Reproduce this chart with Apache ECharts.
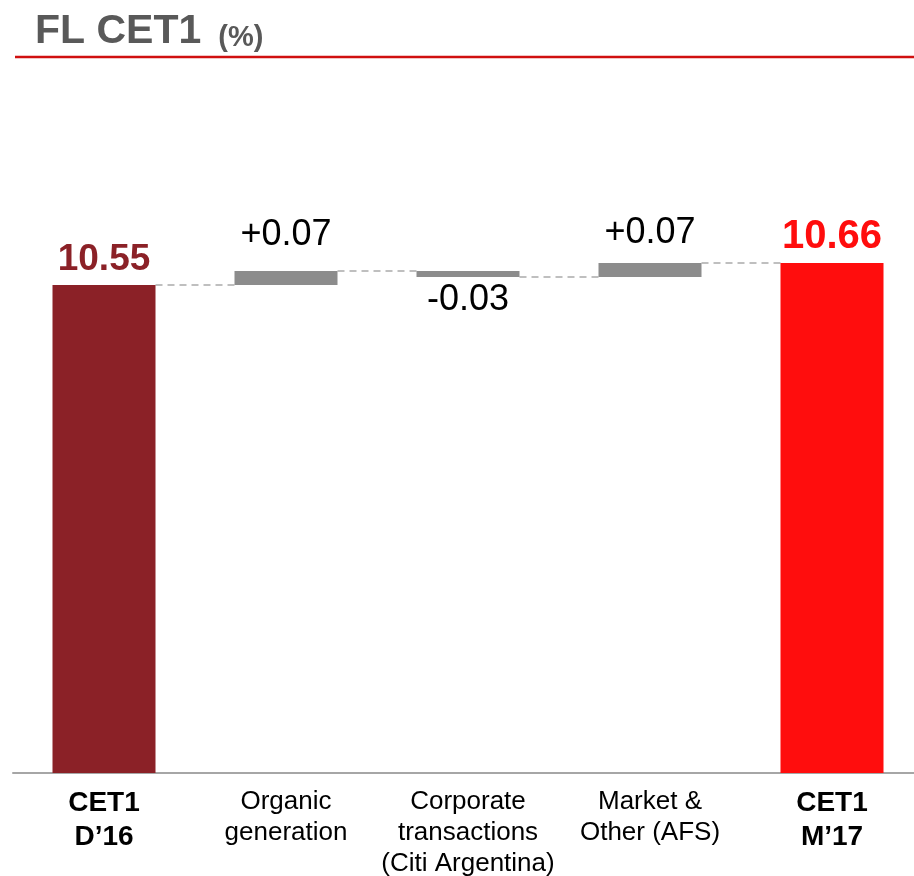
<!DOCTYPE html>
<html>
<head>
<meta charset="utf-8">
<title>FL CET1</title>
<script src="https://cdn.jsdelivr.net/npm/echarts@6/dist/echarts.min.js"></script>
<style>
  html, body { margin: 0; padding: 0; background: #fff; }
  #chart { width: 914px; height: 876px; }
</style>
</head>
<body>
<div id="chart"></div>
<script>
  // values
  const categories = ['CET1\nD’16', 'Organic\ngeneration', 'Corporate\ntransactions\n(Citi Argentina)', 'Market &\nOther (AFS)', 'CET1\nM’17']
  const startValue = 10.55
  const changes = [0.07, -0.03, 0.07]
  const endValue = 10.66
  const changeLabels = ['+0.07', '-0.03', '+0.07']
  const totalLabels = ['10.55', '10.66']

  const FONT = '"Liberation Sans", Arial, sans-serif'
  const BAR_W = 103

  // waterfall helpers: invisible base + visible step
  const baseData = ['-']
  const stepData = ['-']
  const connectors = [[0, startValue]]
  let level = startValue
  const stepLabel = [
    { position: 'top', distance: 18 },
    { position: 'bottom', distance: 5 },
    { position: 'top', distance: 12 }
  ]
  changes.forEach((c, i) => {
    const next = +(level + c).toFixed(2)
    baseData.push(Math.min(level, next))
    stepData.push({
      value: Math.abs(c),
      label: { ...stepLabel[i], formatter: changeLabels[i] }
    })
    level = next
    connectors.push([i + 1, level])
  })
  baseData.push('-')
  stepData.push('-')

  const totalData = [
    {
      value: startValue,
      itemStyle: { color: '#8B2127' },
      label: { formatter: totalLabels[0], color: '#8B2127', fontSize: 37, distance: 7 }
    },
    '-', '-', '-',
    {
      value: endValue,
      itemStyle: { color: '#FF0D0D' },
      label: { formatter: totalLabels[1], color: '#FF0D0D', fontSize: 40, distance: 6 }
    }
  ]

  const boldCat = { fontWeight: 'bold', fontSize: 28, lineHeight: 34 }

  const chart = echarts.init(document.getElementById('chart'), null, { renderer: 'canvas' })
  const option = {
    animation: false,
    backgroundColor: '#fff',
    textStyle: { fontFamily: FONT },
    title: {
      left: 35,
      top: 12,
      padding: 0,
      text: '{a|FL CET1}{b|(%)}',
      textStyle: {
        rich: {
          a: { fontFamily: FONT, fontSize: 41, fontWeight: 'bold', color: '#595959', lineHeight: 40, verticalAlign: 'bottom' },
          b: { fontFamily: FONT, fontSize: 29, fontWeight: 'bold', color: '#595959', lineHeight: 40, verticalAlign: 'bottom', padding: [0, 0, 0, 17] }
        }
      }
    },
    graphic: [
      {
        type: 'line',
        shape: { x1: 15, y1: 57, x2: 914, y2: 57 },
        style: { stroke: '#D01010', lineWidth: 2.5 }
      }
    ],
    grid: { left: 13, width: 910, top: 95, bottom: 103, outerBoundsMode: 'none', containLabel: false },
    xAxis: {
      type: 'category',
      data: categories.map((c, i) => (i === 0 || i === categories.length - 1) ? { value: c, textStyle: boldCat } : c),
      axisLine: { lineStyle: { color: '#A6A6A6', width: 2 } },
      axisTick: { show: false },
      axisLabel: {
        interval: 0,
        margin: 13,
        color: '#000',
        fontFamily: FONT,
        fontSize: 26,
        lineHeight: 31
      }
    },
    yAxis: {
      type: 'value',
      min: 8.11,
      max: 11.5,
      show: false,
      splitLine: { show: false }
    },
    series: [
      {
        type: 'bar',
        stack: 'wf',
        barWidth: BAR_W,
        barGap: '-100%',
        itemStyle: { color: 'transparent' },
        emphasis: { disabled: true },
        data: baseData
      },
      {
        type: 'bar',
        stack: 'wf',
        barWidth: BAR_W,
        barGap: '-100%',
        itemStyle: { color: '#8C8C8C' },
        label: { show: true, color: '#000', fontFamily: FONT, fontSize: 36 },
        emphasis: { disabled: true },
        data: stepData
      },
      {
        type: 'bar',
        barWidth: BAR_W,
        barGap: '-100%',
        label: { show: true, position: 'top', fontFamily: FONT, fontWeight: 'bold' },
        emphasis: { disabled: true },
        data: totalData
      },
      {
        type: 'custom',
        z: 1,
        data: connectors,
        renderItem: (params, api) => {
          const from = api.coord([api.value(0), api.value(1)])
          const to = api.coord([api.value(0) + 1, api.value(1)])
          return {
            type: 'line',
            shape: { x1: from[0] + BAR_W / 2, y1: from[1], x2: to[0] - BAR_W / 2, y2: to[1] },
            style: { stroke: '#BFBFBF', lineWidth: 2, lineDash: [7, 5] }
          }
        }
      }
    ]
  }
  chart.setOption(option)
</script>
</body>
</html>
